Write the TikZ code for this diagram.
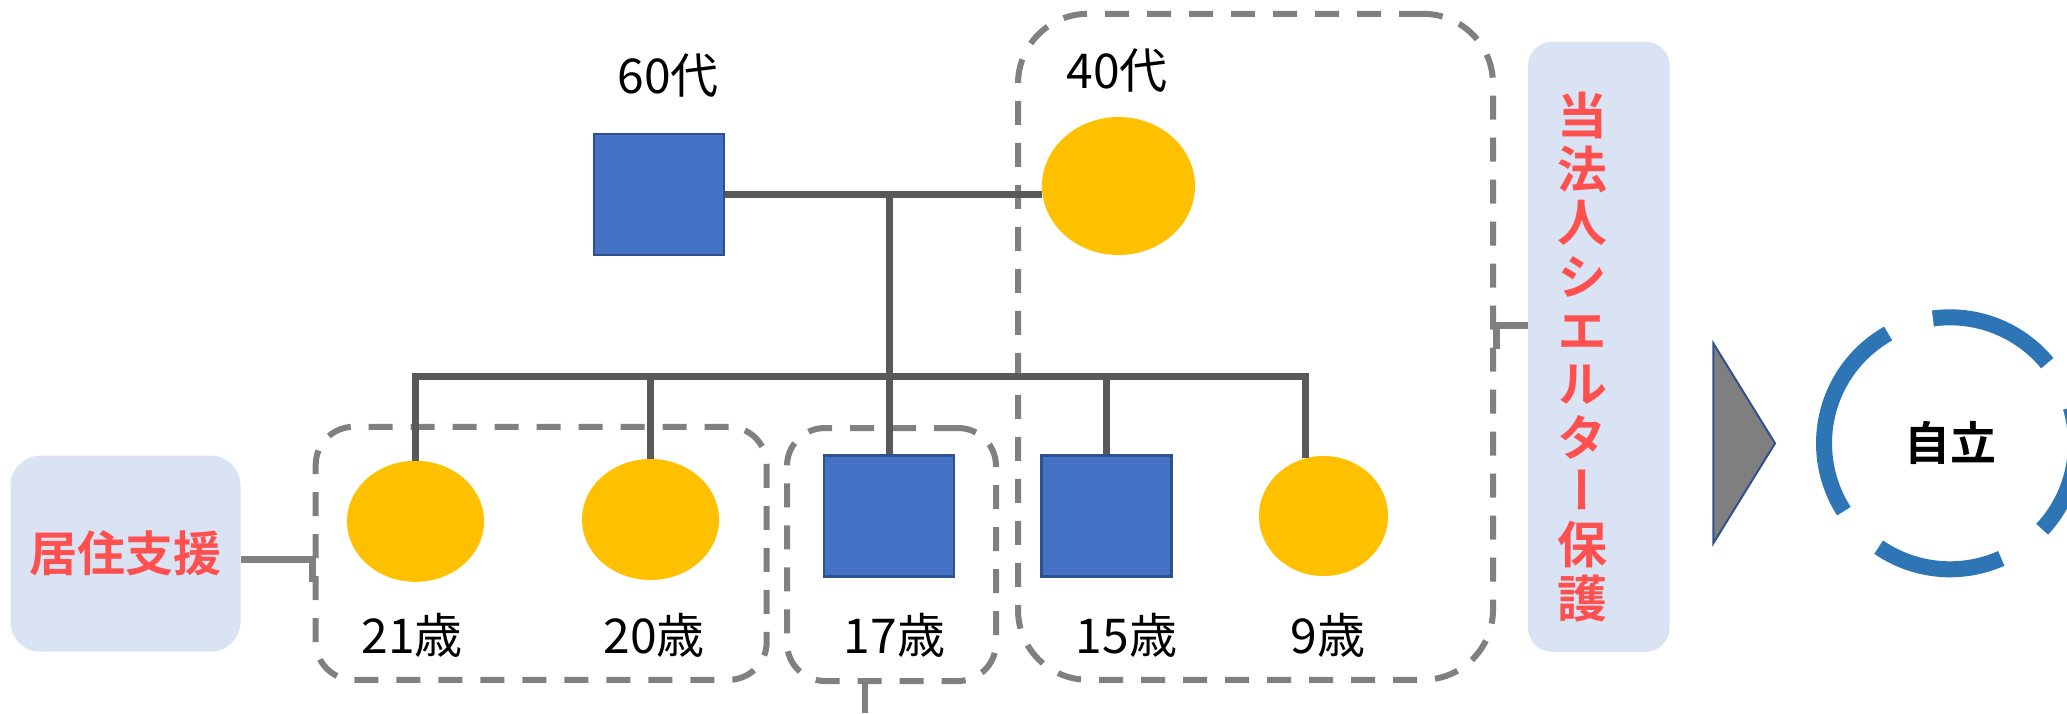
\documentclass[tikz,border=0pt]{standalone}
\usepackage{fontspec}
\setmainfont{Noto Sans CJK JP}[BoldFont={Noto Sans CJK JP Bold}]
\newfontfamily\vertjp[RawFeature=+vert]{Noto Sans CJK JP Bold}
\usetikzlibrary{shapes.geometric,calc}

\definecolor{maleblue}{HTML}{4472C4}
\definecolor{maleedge}{HTML}{2F528F}
\definecolor{femyellow}{HTML}{FFC000}
\definecolor{kingray}{HTML}{595959}
\definecolor{grpgray}{HTML}{808080}
\definecolor{panelblue}{HTML}{DAE3F3}
\definecolor{alertred}{HTML}{FF5050}
\definecolor{ringblue}{HTML}{2E75B6}
\definecolor{arrowgray}{HTML}{7F7F7F}

\begin{document}
\begin{tikzpicture}[x=1pt,y=-1pt,
  male/.style={rectangle, fill=maleblue, draw=maleedge, line width=2.5pt,
    inner sep=0pt, minimum width=130pt, minimum height=121pt},
  female/.style={ellipse, fill=femyellow, inner sep=0pt},
  kin/.style={draw=kingray, line width=7pt},
  grp/.style={rectangle, draw=grpgray, line width=6pt,
    dash pattern=on 24pt off 18pt, inner sep=0pt},
  link/.style={draw=grpgray, line width=7pt},
  age/.style={anchor=base, font=\fontsize{48}{58}\selectfont},
  panel/.style={rectangle, fill=panelblue, inner sep=0pt},
  ringseg/.style={draw=ringblue, line width=16pt, line cap=butt},
]
\fill[white] (0,0) rectangle (2067,713);
\useasboundingbox (0,0) rectangle (2067,713);

% dashed groupings
\node[grp, rounded corners=38pt, minimum width=451pt, minimum height=253pt] (gA) at (541.2,553.3) {};
\node[grp, rounded corners=38pt, minimum width=209pt, minimum height=253pt] (gB) at (891.5,554.5) {};
\node[grp, rounded corners=70pt, minimum width=475pt, minimum height=666pt] (gC) at (1255.5,346.8) {};

% parents
\node[male] (m60) at (659,194.5) {};
\node[female, minimum width=153pt, minimum height=138pt] (f40) at (1118.5,186) {};

% children
\node[female, minimum width=137pt, minimum height=121pt] (d21) at (415.5,521.3) {};
\node[female, minimum width=137pt, minimum height=121pt] (d20) at (650.5,519.5) {};
\node[male] (s17) at (889,515.8) {};
\node[male] (s15) at (1106.5,515.8) {};
\node[female, minimum width=129pt, minimum height=120pt] (d9) at (1323.5,516) {};

% labels
\node[age] (l60) at (668,93.2) {60代};
\node[age] (l40) at (1117,88.7) {40代};
\node[age] (l21) at (412,653.5) {21歳};
\node[age] (l20) at (654,653.5) {20歳};
\node[age] (l17) at (894.5,653.5) {17歳};
\node[age] (l15) at (1126.6,653.5) {15歳};
\node[age] (l9)  at (1328,653.5) {9歳};

% family lines
\coordinate (cp) at (889.5,194.6);
\coordinate (bar) at (0,376);
\draw[kin] (m60.east |- cp) -- (f40.west |- cp);
\draw[kin] (cp) -- (cp |- bar);
\draw[kin] (d21.north) -- (d21.north |- bar) -- (d9.107 |- bar) -- (d9.107);
\draw[kin] (d20.north |- bar) -- (d20.north);
\draw[kin] (s17.north |- bar) -- (s17.north);
\draw[kin] (s15.north |- bar) -- (s15.north);

% support panels
\node[panel, rounded corners=30pt, minimum width=230pt, minimum height=196pt] (jk) at (125.5,553.7) {};
\node[text=alertred, font=\bfseries\fontsize{48}{58}\selectfont] (jktxt) at (125,553) {居住支援};
\node[panel, rounded corners=24pt, minimum width=141.6pt, minimum height=610pt] (sh) at (1598.8,346.75) {};
\node[text=alertred, align=center, font=\vertjp\fontsize{50}{53.6}\selectfont] (shtxt) at (1582,357)
  {当\\法\\人\\シ\\エ\\ル\\タ\\ー\\保\\護};

% connectors to the groups
\coordinate (jkrow) at ($(jk.east)+(0,5.3)$);
\draw[link] (jkrow) -- (gA.west |- jkrow) -- ++(0,23);
\coordinate (shrow) at ($(sh.west)+(0,-21.7)$);
\draw[link] (shrow) -- (gC.east |- shrow) -- ++(0,24);
\coordinate (out17) at (865,713);
\draw[link, line width=6pt] (out17 |- gB.south) -- (out17);

% arrow head
\draw[fill=arrowgray, draw=maleedge, line width=2pt]
  (1713.3,343.3) -- (1775,443.3) -- (1713.3,543.3) -- cycle;

% dashed ring
\coordinate (ring) at (1950,443.3);
\foreach \a/\b in {-97.8/-39.5, -16.5/43, 66/124.5, 147.4/240.6}
  \draw[ringseg] (ring) ++(\a:126) arc[start angle=\a, end angle=\b, radius=126];
\node[font=\bfseries\fontsize{46}{55}\selectfont] (goal) at (ring) {自立};
\end{tikzpicture}
\end{document}
